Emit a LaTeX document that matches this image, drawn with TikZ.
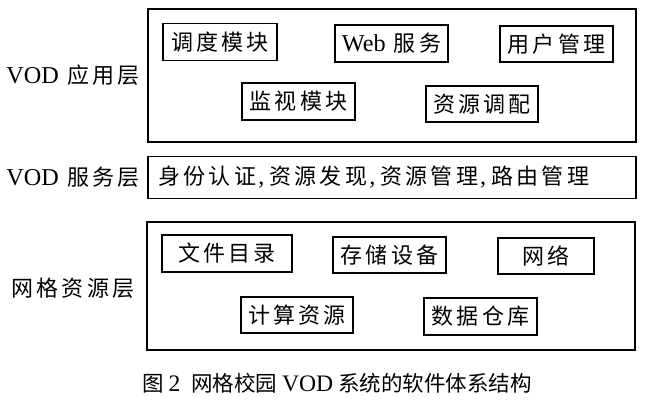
\documentclass[tikz,border=0pt]{standalone}
\usepackage{fontspec}
\setmainfont{Liberation Serif}[Scale=1.1]
\newfontfamily\cjk[LetterSpace=15]{Noto Sans CJK SC}
\newfontfamily\cjkcap{Noto Sans CJK SC}
\usetikzlibrary{positioning}
\newcommand\lat[1]{{\rmfamily #1}}
\newcommand\sep{\hspace{2pt}\lat{,}\hspace{5pt}}

\tikzset{
  layer/.style={draw, line width=1.4pt, minimum width=488pt, inner sep=0pt},
  module/.style={draw, line width=1.2pt, minimum width=113pt, minimum height=36pt, inner sep=0pt},
}

\begin{document}
\begin{tikzpicture}[x=1pt, y=-1pt, thick, font=\fontsize{22}{26}\selectfont\cjk]
    \useasboundingbox (0,0) rectangle (651,405);

    % three layers
    \node[layer, minimum height=133pt] (applayer) at (392, 75.5) {};
    \node[layer, minimum height=42pt] (svclayer) at (392, 177.5) {};
    \node[layer, minimum height=128pt] (reslayer) at (391, 286) {};

    \node (appname) at (73, 75) {\lat{VOD} 应用层};
    \node (svcname) at (73, 177) {\lat{VOD} 服务层};
    \node (resname) at (73, 288) {网格资源层};

    % application layer
    \node[module, minimum width=114pt, minimum height=37pt] (sched) at (220, 42) {调度模块};
    \node[module, minimum height=37pt] (web) at (391.5, 43.5) {\lat{Web} 服务};
    \node[module] (user) at (556.5, 44) {用户管理};
    \node[module, minimum height=37pt] (monitor) at (298.5, 101.5) {监视模块};
    \node[module, minimum width=112pt] (alloc) at (482, 104) {资源调配};

    % service layer
    \node[anchor=west, inner sep=0pt] (svctext) at (158, 177.5) {身份认证\sep 资源发现\sep 资源管理\sep 路由管理};

    % grid resource layer
    \node[module, minimum width=130pt, minimum height=37pt] (files) at (227, 253.5) {文件目录};
    \node[module] (storage) at (389.5, 255) {存储设备};
    \node[module, minimum width=96pt] (net) at (546, 256) {网络};
    \node[module, minimum width=112pt] (compute) at (297, 315) {计算资源};
    \node[module, minimum height=37pt] (warehouse) at (480.5, 316.5) {数据仓库};

    \node[font=\fontsize{21.5}{26}\selectfont\cjkcap] (caption) at (337, 383) {图 \lat{2}\enspace 网格校园 \lat{VOD} 系统的软件体系结构};
\end{tikzpicture}
\end{document}
